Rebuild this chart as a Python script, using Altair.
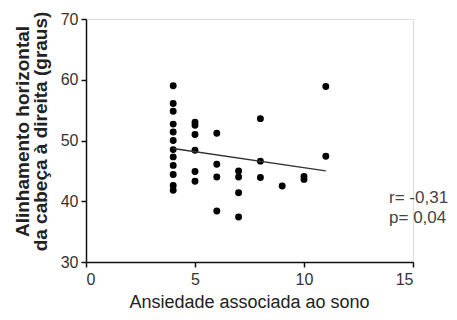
import altair as alt
import pandas as pd

# scatter data
xs = [4]*12 + [5]*6 + [6]*4 + [7]*4 + [8]*3 + [9] + [10]*2 + [11]*2
ys = [59.0, 56.1, 54.8, 52.7, 51.4, 50.0, 48.5, 47.3, 45.9, 44.4, 42.6, 41.8,
      53.0, 52.5, 51.0, 48.4, 44.9, 43.3,
      51.2, 46.1, 44.0, 38.4,
      45.0, 44.0, 41.4, 37.4,
      53.6, 46.6, 43.9,
      42.5,
      44.1, 43.6,
      58.9, 47.4]

fit_x = [4, 11]
fit_y = [48.7, 45.0]

ann_x = [13.9, 13.9]
ann_y = [39.7, 36.4]
ann_text = ["r= -0,31", "p= 0,04"]

x_ticks = [0, 5, 10, 15]
y_ticks = [30, 40, 50, 60, 70]

pts = pd.DataFrame({"x": xs, "y": ys})
fit = pd.DataFrame({"x": fit_x, "y": fit_y})
ann = pd.DataFrame({"x": ann_x, "y": ann_y, "t": ann_text})

FONT = "Liberation Sans"

xscale = alt.Scale(domain=[0, 15], nice=False, zero=False)
yscale = alt.Scale(domain=[30, 70], nice=False, zero=False)

xaxis = alt.Axis(values=x_ticks, title="Ansiedade associada ao sono", grid=False,
                 domainColor="#111", domainWidth=1.5, tickColor="#111", tickWidth=1.5,
                 tickSize=5, labelPadding=4, labelFontSize=16, labelColor="#333",
                 labelFont=FONT, titleFont=FONT, titleFontSize=18, titleFontWeight="normal",
                 titleColor="#222", titleY=45, titleBaseline="alphabetic", titleX=163)
yaxis = alt.Axis(values=y_ticks, title=["Alinhamento horizontal", "da cabeça à direita (graus)"],
                 grid=False, domainColor="#111", domainWidth=1.5, tickColor="#111",
                 tickWidth=1.5, tickSize=5, labelPadding=3, labelFontSize=16,
                 labelColor="#333", labelFont=FONT, titleFont=FONT, titleFontSize=19,
                 titleFontWeight="bold", titleColor="#222", titleLineHeight=18,
                 titleX=-64, titleY=112, titleBaseline="middle", titleAlign="center",
                 titleAngle=270)

points = alt.Chart(pts).mark_circle(size=48, color="black", opacity=1).encode(
    x=alt.X("x:Q", scale=xscale, axis=xaxis),
    y=alt.Y("y:Q", scale=yscale, axis=yaxis),
)

line = alt.Chart(fit).mark_line(color="#333", strokeWidth=1.5).encode(
    x=alt.X("x:Q", scale=xscale),
    y=alt.Y("y:Q", scale=yscale),
)

text = alt.Chart(ann).mark_text(align="left", baseline="alphabetic", fontSize=17,
                                font=FONT, color="#444", clip=False).encode(
    x=alt.X("x:Q", scale=xscale),
    y=alt.Y("y:Q", scale=yscale),
    text="t:N",
)

chart = alt.layer(points, line, text).properties(
    width=327, height=243,
    autosize=alt.AutoSizeParams(type="none"),
    padding={"left": 78, "top": 11, "right": 36, "bottom": 50},
).configure_view(stroke=None).configure(background="white")

chart.save("out.html", embed_options={"renderer": "svg", "actions": False})
